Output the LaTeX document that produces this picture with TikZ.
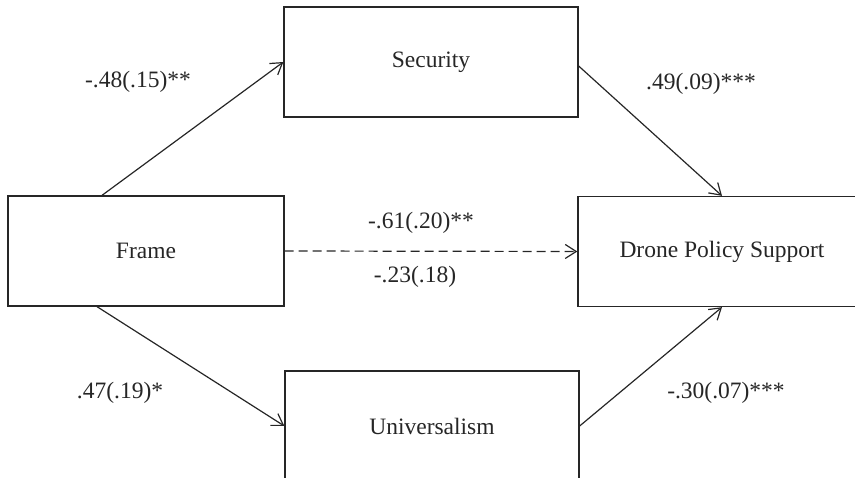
\documentclass[tikz,border=0pt]{standalone}
\usepackage{fontspec}
\setmainfont{Liberation Serif}
\usetikzlibrary{arrows.meta}
\definecolor{ink}{HTML}{262626}
\begin{document}
\begin{tikzpicture}[x=1pt,y=-1pt,
  every node/.style={font=\fontsize{23.5}{28}\selectfont, text=ink},
  box/.style={draw=ink, line width=1.3pt, inner sep=0pt, minimum height=110pt},
  conn/.style={draw=ink, line width=1.2pt, -{Straight Barb[length=11pt,width=14pt,line width=1.2pt]}},
  lab/.style={inner sep=0pt}]
\useasboundingbox (0,0) rectangle (855,478);
\clip (0,0) rectangle (855,478);
\node[box, minimum width=276pt] (frame) at (146,251) {Frame};
\node[box, minimum width=294pt] (sec) at (431,62) {Security};
\node[box, minimum width=294pt] (uni) at (432,426) {Universalism};
\node[box, minimum width=288pt] (dps) at (722,251.5) {Drone Policy Support};
\draw[conn] ([xshift=-44pt]frame.north) -- (sec.west);
\draw[conn] ([xshift=-49pt]frame.south) -- (uni.west);
\draw[conn] ([yshift=-4pt]sec.east) -- (dps.north);
\draw[conn] (uni.east) -- (dps.south);
\draw[conn, dash pattern=on 9pt off 5pt] (frame.east) -- (dps.west);
\node[lab] (l1) at (138,82) {-.48(.15)**};
\node[lab] (l2) at (701,84) {.49(.09)***};
\node[lab] (l3) at (421,223) {-.61(.20)**};
\node[lab] (l4) at (415,277) {-.23(.18)};
\node[lab] (l5) at (120,393) {.47(.19)*};
\node[lab] (l6) at (726,393) {-.30(.07)***};
\end{tikzpicture}
\end{document}
